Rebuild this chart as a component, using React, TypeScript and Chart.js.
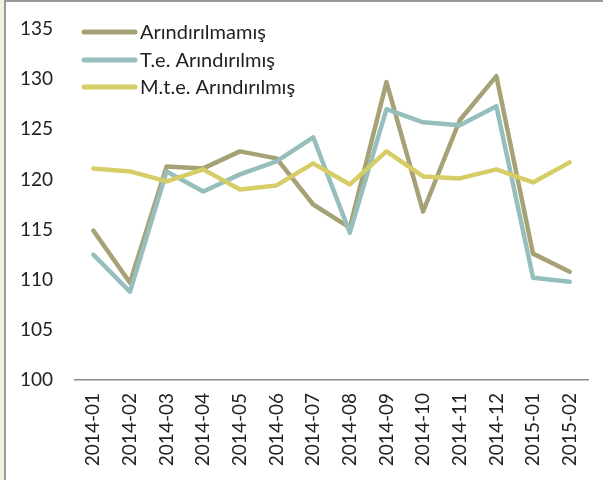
import React, { useEffect, useRef } from "react";
import { Chart, registerables } from "chart.js";

Chart.register(...registerables);

const categories = [
  "2014-01", "2014-02", "2014-03", "2014-04", "2014-05", "2014-06", "2014-07",
  "2014-08", "2014-09", "2014-10", "2014-11", "2014-12", "2015-01", "2015-02",
];
const seriesNames = ["Arındırılmamış", "T.e. Arındırılmış", "M.t.e. Arındırılmış"];
const arindirilmamis = [114.9, 109.7, 121.3, 121.1, 122.8, 122.1, 117.5, 115.2, 129.7, 116.8, 125.9, 130.3, 112.6, 110.8];
const teArindirilmis = [112.5, 108.8, 120.8, 118.8, 120.5, 121.8, 124.2, 114.7, 127.0, 125.7, 125.4, 127.3, 110.2, 109.8];
const mteArindirilmis = [121.1, 120.8, 119.8, 121.0, 119.0, 119.4, 121.6, 119.5, 122.8, 120.3, 120.1, 121.0, 119.7, 121.7];
const colors = ["#A6A276", "#96BEBD", "#D6CD66"];
const yMin = 100;
const yMax = 135;
const yStep = 5;

const FONT = "Lato, 'Open Sans', sans-serif";

const legendPlugin = {
  id: "insideLegend",
  afterDatasetsDraw(chart: any) {
    const ctx = chart.ctx;
    const x0 = 82;
    const rowY = [32, 60, 87];
    ctx.save();
    chart.data.datasets.forEach((ds: any, i: number) => {
      const y = rowY[i];
      ctx.strokeStyle = ds.borderColor;
      ctx.lineWidth = 5;
      ctx.lineCap = "round";
      ctx.beginPath();
      ctx.moveTo(x0 + 2, y);
      ctx.lineTo(x0 + 53, y);
      ctx.stroke();
      ctx.fillStyle = "#222";
      ctx.font = `20px ${FONT}`;
      ctx.textBaseline = "middle";
      ctx.textAlign = "left";
      ctx.fillText(ds.label, x0 + 58, y + 1);
    });
    ctx.restore();
  },
};

const zeroPad = (axis: any) => {
  axis.paddingTop = 0;
  axis.paddingBottom = 0;
  axis.paddingLeft = 0;
  axis.paddingRight = 0;
};

export default function App() {
  const ref = useRef<HTMLCanvasElement | null>(null);

  useEffect(() => {
    if (!ref.current) return;
    const series = [arindirilmamis, teArindirilmis, mteArindirilmis];
    const chart = new Chart(ref.current, {
      type: "line",
      data: {
        labels: categories,
        datasets: series.map((d, i) => ({
          label: seriesNames[i],
          data: d,
          borderColor: colors[i],
          backgroundColor: colors[i],
          borderWidth: 4.5,
          pointRadius: 0,
          pointHoverRadius: 0,
          tension: 0,
          borderCapStyle: "round" as const,
          borderJoinStyle: "round" as const,
          order: 3 - i,
        })),
      },
      options: {
        responsive: false,
        animation: false,
        layout: { padding: { top: 29, right: 15, left: 0, bottom: 0 } },
        plugins: {
          legend: { display: false },
          tooltip: { enabled: false },
        },
        scales: {
          x: {
            offset: true,
            grid: { display: false, drawTicks: false },
            border: { display: true, color: "#8C8C8C", width: 1.5 },
            ticks: {
              minRotation: 90,
              maxRotation: 90,
              autoSkip: false,
              padding: 13,
              color: "#222",
              font: { family: FONT, size: 19 },
            },
            afterFit: (axis: any) => {
              axis.height = 100;
              zeroPad(axis);
            },
          },
          y: {
            min: yMin,
            max: yMax,
            grid: { display: false, drawTicks: false },
            border: { display: false },
            ticks: {
              stepSize: yStep,
              padding: 22,
              color: "#222",
              font: { family: FONT, size: 19 },
            },
            afterFit: (axis: any) => {
              axis.width = 75;
              zeroPad(axis);
            },
          },
        },
      },
      plugins: [legendPlugin],
    });
    return () => chart.destroy();
  }, []);

  return (
    <div
      style={{
        position: "fixed",
        left: 0,
        top: 0,
        width: 603,
        height: 480,
        background: "#fff",
        overflow: "hidden",
      }}
    >
      <canvas ref={ref} width={603} height={480} style={{ position: "absolute", left: 0, top: 0 }} />
      <div style={{ position: "absolute", left: 0, top: 0, width: 4, height: 480, background: "#F5F1DF" }} />
      <div style={{ position: "absolute", left: 4, top: 0, width: 2, height: 480, background: "#9A9A9A" }} />
      <div style={{ position: "absolute", left: 4, top: 0, width: 599, height: 2, background: "#9A9A9A" }} />
    </div>
  );
}
